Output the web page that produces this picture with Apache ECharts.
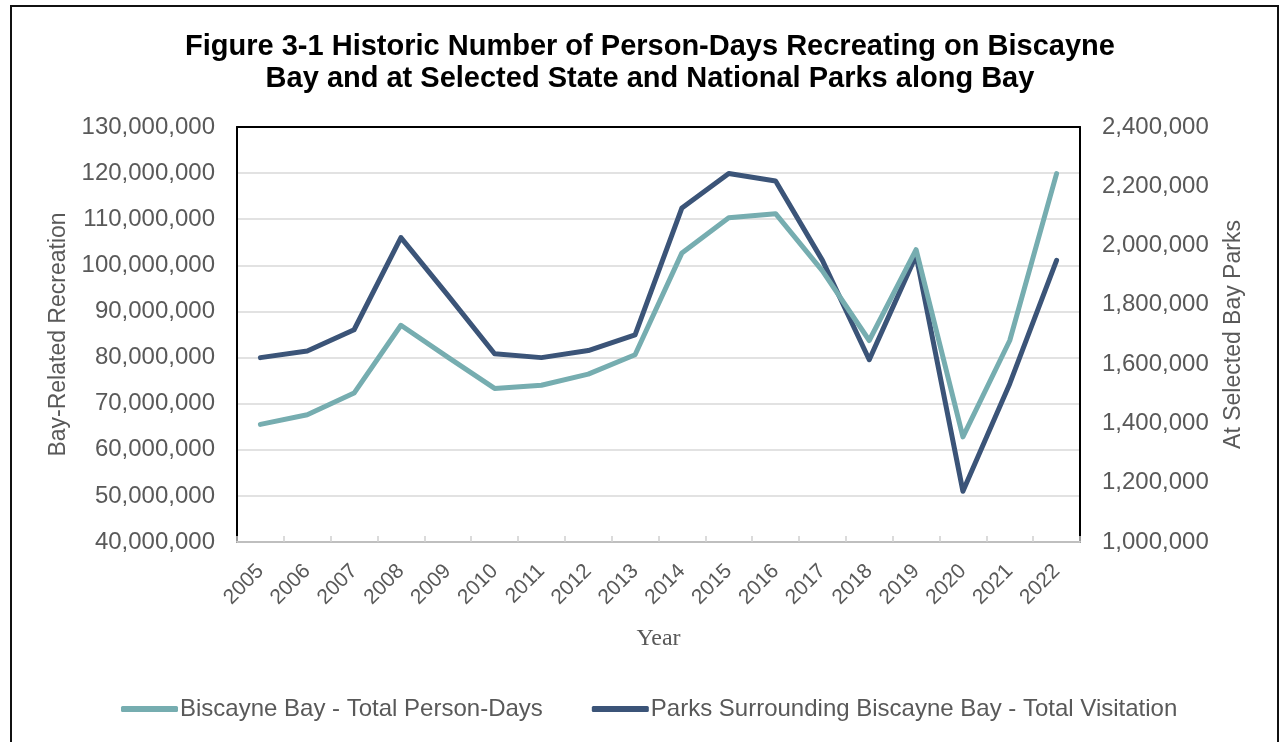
<!DOCTYPE html>
<html>
<head>
<meta charset="utf-8">
<script src="https://cdn.jsdelivr.net/npm/echarts@6/dist/echarts.min.js"></script>
<style>
html,body{margin:0;padding:0;background:#fff;}
#chart{width:1280px;height:742px;}
</style>
</head>
<body>
<div id="chart"></div>
<script>
const years = ['2005','2006','2007','2008','2009','2010','2011','2012','2013','2014','2015','2016','2017','2018','2019','2020','2021','2022'];
const bayPersonDays = [65500000, 67600000, 72300000, 87000000, 80100000, 73300000, 74000000, 76400000, 80600000, 102700000, 110300000, 111200000, 98800000, 83700000, 103400000, 62800000, 83700000, 119900000];
const parksVisitation = [1622000, 1644000, 1716000, 2027000, 1833000, 1635000, 1622000, 1646000, 1699000, 2127000, 2243000, 2218000, 1950000, 1615000, 1967000, 1171000, 1534000, 1950000];
const seriesNames = ['Biscayne Bay - Total Person-Days', 'Parks Surrounding Biscayne Bay - Total Visitation'];
const titleText = 'Figure 3-1 Historic Number of Person-Days Recreating on Biscayne\nBay and at Selected State and National Parks along Bay';

const grey = '#595959';
const fmt = v => Number(v).toLocaleString('en-US');
const chart = echarts.init(document.getElementById('chart'));
chart.setOption({
  animation: false,
  backgroundColor: '#fff',
  graphic: [{
    type: 'rect', silent: true,
    shape: { x: 11, y: 6, width: 1267, height: 800 },
    style: { fill: 'none', stroke: '#111', lineWidth: 2 }
  }],
  title: {
    text: titleText,
    left: 645, top: 26, textAlign: 'center',
    textStyle: { fontFamily: 'Liberation Sans, Arial, sans-serif', fontSize: 29, fontWeight: 'bold', color: '#000', lineHeight: 32 }
  },
  legend: {
    left: 116, top: 692,
    itemWidth: 57, itemHeight: 6, itemGap: 49,
    icon: 'roundRect',
    textStyle: { fontFamily: 'Liberation Sans, Arial, sans-serif', fontSize: 24, color: grey, padding: [0,0,0,-3] },
    data: seriesNames
  },
  grid: { left: 237, right: 200, top: 127, bottom: 200, containLabel: false, outerBoundsMode: 'none' },
  xAxis: [{
    type: 'category', data: years, boundaryGap: true, position: 'bottom',
    name: 'Year', nameLocation: 'middle', nameGap: 85,
    nameTextStyle: { fontFamily: 'Liberation Serif, Times New Roman, serif', fontSize: 24, color: grey },
    axisLine: { lineStyle: { color: '#bfbfbf', width: 2 } },
    axisTick: { show: true, inside: true, length: 6, lineStyle: { color: '#d0d0d0', width: 1.5 } },
    axisLabel: { rotate: 45, margin: 26, interval: 0, fontFamily: 'Liberation Sans, Arial, sans-serif', fontSize: 21, color: grey },
    splitLine: { show: false }
  }, {
    type: 'category', data: years, position: 'top',
    axisLine: { show: true, lineStyle: { color: '#000', width: 2 } },
    axisTick: { show: false }, axisLabel: { show: false }, splitLine: { show: false }
  }],
  yAxis: [{
    type: 'value', min: 40000000, max: 130000000, interval: 10000000, position: 'left',
    name: 'Bay-Related Recreation', nameLocation: 'middle', nameGap: 165, nameRotate: 90,
    nameTextStyle: { fontFamily: 'Liberation Sans, Arial, sans-serif', fontSize: 23, color: grey },
    axisLine: { show: true, lineStyle: { color: '#000', width: 2 } },
    axisTick: { show: false },
    axisLabel: { margin: 22, fontFamily: 'Liberation Sans, Arial, sans-serif', fontSize: 24, color: grey, formatter: fmt },
    splitLine: { show: true, lineStyle: { color: '#d9d9d9', width: 1.5 } }
  }, {
    type: 'value', min: 1000000, max: 2400000, interval: 200000, position: 'right',
    name: 'At Selected Bay Parks', nameLocation: 'middle', nameGap: 142, nameRotate: 90,
    nameTextStyle: { fontFamily: 'Liberation Sans, Arial, sans-serif', fontSize: 23, color: grey },
    axisLine: { show: true, lineStyle: { color: '#000', width: 2 } },
    axisTick: { show: false },
    axisLabel: { margin: 22, fontFamily: 'Liberation Sans, Arial, sans-serif', fontSize: 24, color: grey, formatter: fmt },
    splitLine: { show: false }
  }],
  series: [{
    name: seriesNames[0], type: 'line', yAxisIndex: 0, data: bayPersonDays,
    symbol: 'none', smooth: false, z: 4,
    itemStyle: { color: '#76adb0' },
    lineStyle: { color: '#76adb0', width: 5, cap: 'round', join: 'round' }
  }, {
    name: seriesNames[1], type: 'line', yAxisIndex: 1, data: parksVisitation,
    symbol: 'none', smooth: false, z: 3,
    itemStyle: { color: '#3b5478' },
    lineStyle: { color: '#3b5478', width: 5, cap: 'round', join: 'round' }
  }]
});
</script>
</body>
</html>
